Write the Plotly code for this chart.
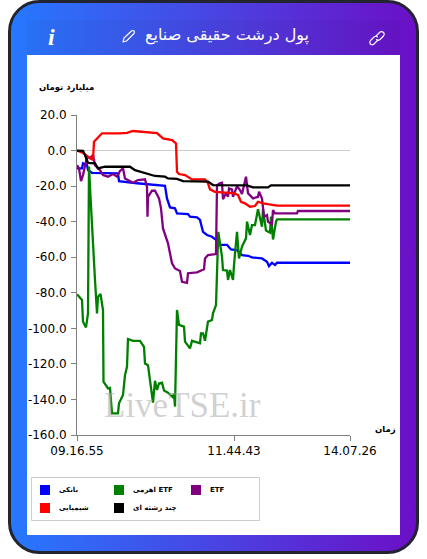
import base64
import plotly.graph_objects as go

W, H = 427, 559
L, R, T, B = 77, 350, 115, 435

# x is the sample position along the (uneven) time axis
bank_x = [0, 5, 6, 10, 11, 15, 41, 42, 60, 88, 90, 93, 98, 100, 111, 113, 120, 123, 126, 130, 135, 140, 143, 150, 154, 160, 165, 171, 175, 185, 190, 192, 195, 198, 200, 273]
bank_y = [-10, -10, -7.2, -8.2, -11, -12.5, -12.8, -17.2, -18.4, -19.8, -26.9, -32, -32.5, -35.3, -35.7, -37.2, -37.6, -39, -45.7, -47.5, -48.5, -50.7, -53.1, -53.1, -55.6, -56, -58.8, -59.2, -60.1, -60.7, -62.5, -65, -63.1, -64.4, -63.1, -63.1]

lev_x = [0, 5, 6, 9, 11, 12, 13.5, 15.5, 17, 18, 20, 21, 23.5, 26, 26.5, 31, 33, 35, 41, 42, 46, 48, 50, 51, 56, 63, 67, 68, 71, 74, 76, 78, 80, 82, 85, 87, 91, 96, 97, 98, 99, 100, 102, 107, 108, 113, 115, 123, 124, 126, 128, 130, 131, 135, 136, 139, 140, 141.3, 145, 146, 150, 151, 153, 156, 157, 160, 162, 165, 169, 170, 173, 175, 178, 181, 185, 186, 189, 193, 194, 196, 199, 200, 273]
lev_y = [-80.9, -84, -96.3, -99.5, -91.6, -9, -26, -50.3, -66, -72.8, -91.6, -82.2, -80.7, -89.7, -130, -133.8, -133.5, -147.8, -147.8, -142.2, -137.5, -126.3, -121.6, -106, -107, -107, -110.4, -119.8, -120.8, -134.7, -141.8, -129.5, -134.7, -131, -130.6, -135, -136.2, -138.8, -136.6, -144, -120.7, -89.7, -98, -99, -107.5, -111.3, -107, -108.4, -102.8, -102.8, -107, -98, -96.2, -95.3, -91.6, -86.9, -72.8, -45.7, -59.7, -67.2, -67.5, -72.8, -67.2, -72.8, -64.4, -45.7, -60.7, -54, -49.4, -40, -47.5, -41.9, -41.9, -33, -42.8, -33, -45, -46.2, -37.2, -50, -40, -38.7, -38.7]

etf_x = [0, 2, 4, 6, 10, 13, 16, 18, 23, 26, 31, 36, 40, 41, 43, 46, 48, 56, 61, 68, 70, 70.5, 71, 75, 78, 82, 84, 86, 91, 95, 98, 103, 105, 110, 111, 120, 127, 128, 131, 139, 140, 143, 145, 146, 149, 151, 152, 155, 156, 160, 163, 165, 167, 169, 171, 176, 181, 182, 185, 187, 190, 191, 195, 196, 198, 220, 221, 273]
etf_y = [-8.2, -10, -17.2, -13.8, -3.5, -4.4, -2.5, -8.2, -11, -13.8, -14.7, -13.2, -14.7, -13.8, -11.5, -10, -15.7, -18.1, -16.6, -16.2, -20.4, -37.2, -26, -22.6, -22.6, -26.9, -32.5, -43.8, -52.2, -63.4, -66.3, -67.8, -73.8, -74.4, -69, -68.5, -66.8, -60.7, -58.8, -58.2, -19.4, -18.4, -18.1, -27.4, -24, -26, -21.3, -22, -26, -20, -22.2, -24.5, -19.4, -14.7, -24, -26.9, -26, -23.2, -27, -37.2, -36.3, -40, -41.3, -33.5, -35.3, -35.3, -34, -34]

chem_x = [0, 6, 10, 16, 17, 20, 25, 43, 50, 56, 80, 86, 95, 99, 100, 102, 108, 115, 128, 131, 133, 138, 156, 161, 164, 168, 173, 178, 181, 186, 191, 200, 273]
chem_y = [0, -1.3, -3, -5.3, 5, 6.8, 9.7, 9.7, 10, 11, 9.8, 6.8, 5.9, 4, -11.9, -13.2, -13.8, -16.2, -16.2, -18.4, -21.8, -23.2, -24, -25, -28.8, -29.7, -31.6, -31.2, -28.8, -29.7, -30.3, -31, -31]

multi_x = [0, 6, 8, 11, 18, 21, 28, 53, 58, 70, 78, 88, 91, 100, 106, 131, 136, 170, 176, 191, 194, 273]
multi_y = [0, -0.2, -2.5, -6.9, -7.2, -10, -9.1, -9.1, -11, -13.2, -14.3, -14.7, -15.7, -15.9, -17.2, -17.5, -19.4, -19.6, -20.7, -20.7, -19.6, -19.6]

names = ["بانکی", "اهرمی ETF", "ETF", "شیمیایی", "چند رشته ای"]
colors = ["#0000ff", "#008000", "#800080", "#ff0000", "#000000"]
series_x = [bank_x, lev_x, etf_x, chem_x, multi_x]
series_y = [bank_y, lev_y, etf_y, chem_y, multi_y]

y_ticks = [20, 0, -20, -40, -60, -80, -100, -120, -140, -160]
y_labels = ["20.0", "0.0", "-20.0", "-40.0", "-60.0", "-80.0", "-100.0", "-120.0", "-140.0", "-160.0"]
x_ticks = [0, 157, 273]
x_labels = ["09.16.55", "11.44.43", "14.07.26"]

# card behind the chart: gradient, white panel and the header icons
card = f"""<svg xmlns='http://www.w3.org/2000/svg' width='{W}' height='{H}' viewBox='0 0 {W} {H}'>
<defs><linearGradient id='g' x1='0' y1='0' x2='1' y2='0'><stop offset='0' stop-color='#2679ff'/><stop offset='1' stop-color='#6c0fc6'/></linearGradient></defs>
<rect x='9.5' y='1.5' width='408' height='551' rx='30' fill='url(#g)' stroke='#222430' stroke-width='3'/>
<rect x='27' y='20' width='373' height='35' fill='#000' opacity='0.03'/>
<rect x='27' y='55' width='373' height='480' fill='#fff'/>
<g fill='none' stroke='#fff' stroke-width='1.1' stroke-linecap='round' stroke-linejoin='round'>
<path d='M123 42 L124 38 L131.5 31 Q133 30 134 31 Q135 32 134 33.5 L126.5 41 Z'/>
<path d='M376 36 L380 32 Q382 31 383.5 32.5 Q385 34 383.5 36 L380 39.5 Q378 41 376.5 39.5'/>
<path d='M378 40 L374 44 Q372 45.5 370.5 44 Q369 42.5 370.5 40.5 L374 37 Q376 35.5 377.5 37'/>
</g></svg>"""
card_uri = "data:image/svg+xml;base64," + base64.b64encode(card.encode()).decode()


def px(x):
    return (x - L) / (R - L)


def py(y):
    return (B - y) / (B - T)


fig = go.Figure()
for name, color, xs, ys in zip(names, colors, series_x, series_y):
    fig.add_trace(go.Scatter(x=xs, y=ys, name=name, mode="lines", showlegend=False,
                             line=dict(color=color, width=2.3)))

fig.add_layout_image(source=card_uri, xref="paper", yref="paper", x=px(0), y=py(0),
                     sizex=W / (R - L), sizey=H / (B - T), xanchor="left", yanchor="top",
                     sizing="stretch", layer="below")

shapes = [dict(type="rect", xref="paper", yref="paper", x0=px(31.5), x1=px(259.5), y0=py(477.5), y1=py(520.5),
               line=dict(color="#cccccc", width=1), fillcolor="rgba(0,0,0,0)")]
ann = [
    dict(text="پول درشت حقیقی صنایع", x=px(226.5), y=py(35), font=dict(size=16, color="#ffffff", family="DejaVu Sans")),
    dict(text="<b><i>i</i></b>", x=px(51), y=py(37), font=dict(size=24, color="#ffffff", family="Liberation Serif")),
    dict(text="<b>میلیارد تومان</b>", x=px(66.5), y=py(88), font=dict(size=8.5, color="#000000", family="DejaVu Sans")),
    dict(text="<b>زمان</b>", x=px(385), y=py(429), font=dict(size=8.5, color="#000000", family="DejaVu Sans")),
    dict(text="LiveTSE.ir", x=px(182), y=py(405), font=dict(size=35, color="rgba(170,170,170,0.55)", family="Liberation Serif")),
]

# legend drawn by hand: the reference uses square swatches in three columns
legend_pos = [(40, 490), (114, 490), (191, 490), (40, 508), (114, 508)]
for name, color, (lx, ly) in zip(names, colors, legend_pos):
    shapes.append(dict(type="rect", xref="paper", yref="paper", x0=px(lx), x1=px(lx + 10),
                       y0=py(ly - 5), y1=py(ly + 5), fillcolor=color, line=dict(width=0)))
    ann.append(dict(text="<b>" + name + "</b>", x=px(lx + 17), y=py(ly), xanchor="left",
                    font=dict(size=7, color="#000000", family="DejaVu Sans")))

for a in ann:
    a.update(xref="paper", yref="paper", showarrow=False)
    a.setdefault("xanchor", "center")
    a.setdefault("yanchor", "middle")

axis_font = dict(family="DejaVu Sans", size=12, color="#000000")
fig.update_layout(
    width=W, height=H, autosize=False,
    margin=dict(l=L, r=W - R, t=T, b=H - B, pad=0),
    paper_bgcolor="#ffffff", plot_bgcolor="rgba(0,0,0,0)",
    shapes=shapes, annotations=ann, showlegend=False,
    xaxis=dict(range=[0, 273], tickvals=x_ticks, ticktext=x_labels, showgrid=False, zeroline=False,
               showline=True, linecolor="#808080", linewidth=1, ticks="outside", ticklen=5,
               tickcolor="#808080", tickfont=axis_font, fixedrange=True),
    yaxis=dict(range=[-160, 20], tickvals=y_ticks, ticktext=y_labels, showgrid=False, zeroline=True,
               zerolinecolor="#cccccc", zerolinewidth=1, showline=True, linecolor="#808080", linewidth=1,
               ticks="outside", ticklen=5, tickcolor="#808080", tickfont=axis_font, fixedrange=True,
               ticklabelstandoff=2),
)

fig.write_html("out.html", config=dict(displayModeBar=False),
               post_script="document.body.style.margin='0';")
